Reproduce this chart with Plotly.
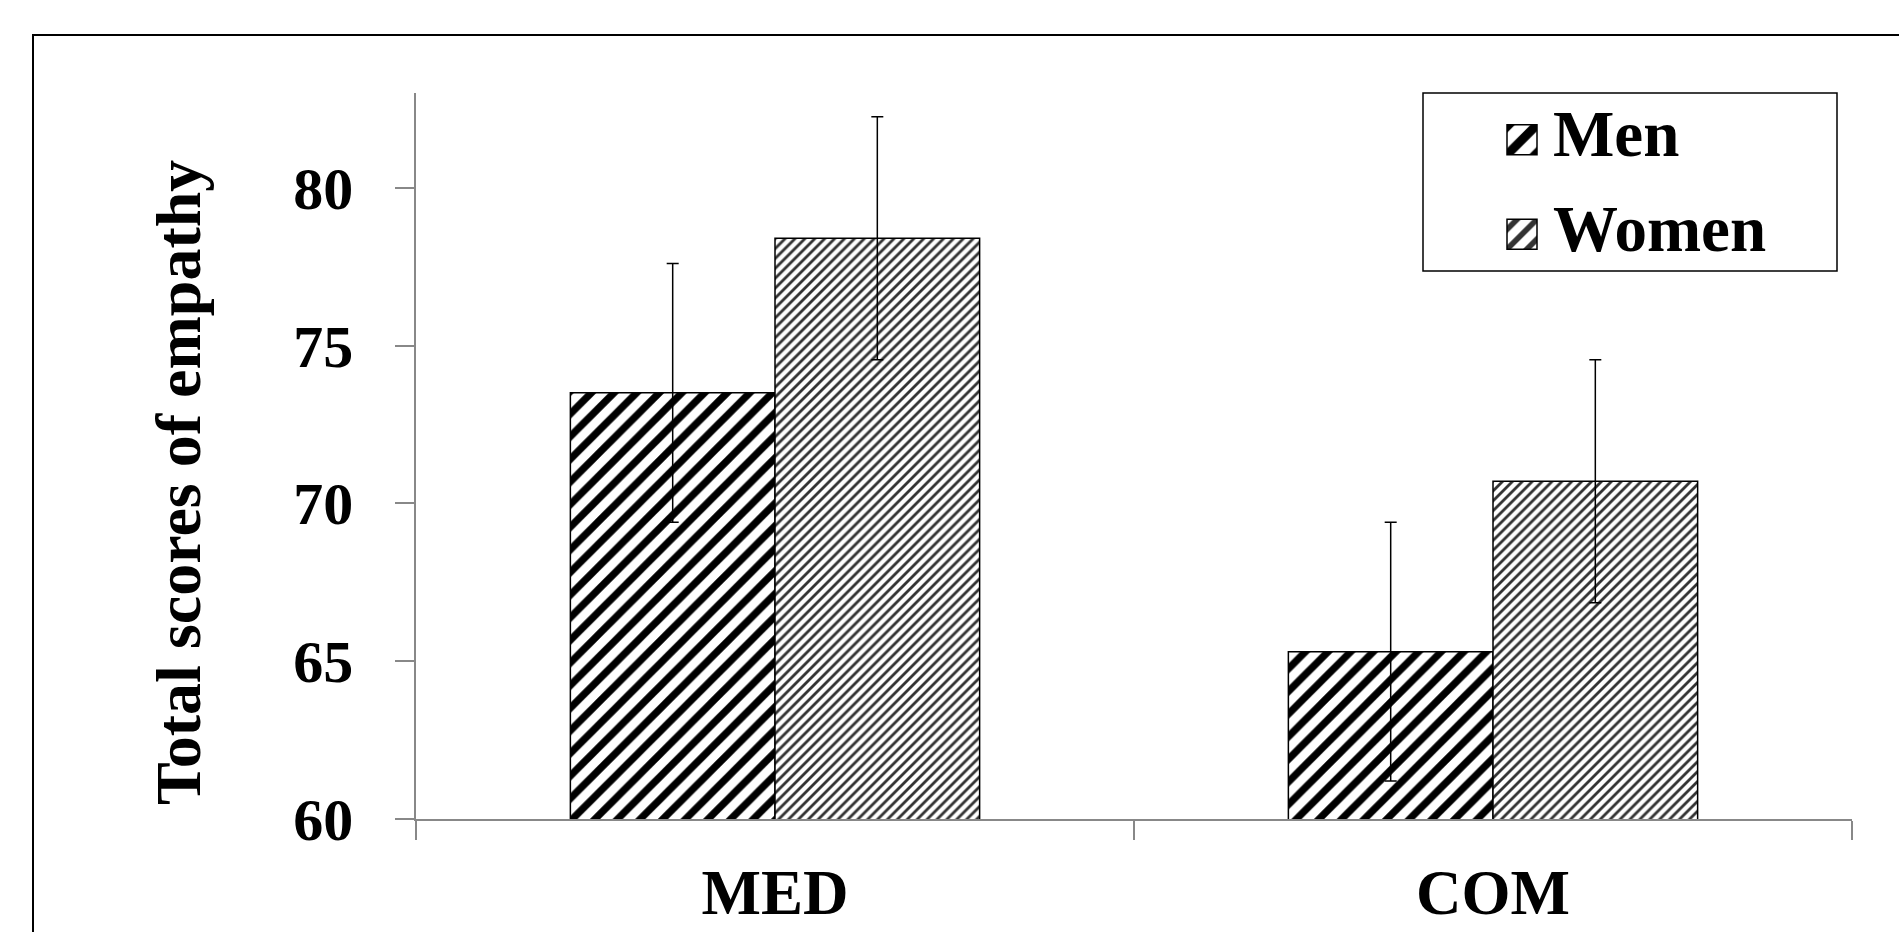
import plotly.graph_objects as go

categories = ["MED", "COM"]
men_values = [73.5, 65.3]
men_err = [4.1, 4.1]
women_values = [78.4, 70.7]
women_err = [3.85, 3.85]
y_ticks = [60, 65, 70, 75, 80]

W, H = 1899, 932
L, R, T, B = 416, 47, 93, 113
pw, ph = W - L - R, H - T - B

def px_x(p):
    return (p - L) / pw

def px_y(p):
    return (H - B - p) / ph

FONT = "Liberation Serif"

fig = go.Figure()
fig.add_trace(go.Bar(
    x=categories, y=men_values, name="Men", legendgroup="men",
    marker=dict(color="white", line=dict(color="black", width=1.5),
                pattern=dict(shape="/", size=16, solidity=0.45, fgcolor="black",
                             bgcolor="white", fgopacity=1, fillmode="replace")),
    error_y=dict(type="data", array=men_err, color="black", thickness=1.5, width=6),
))
fig.add_trace(go.Bar(
    x=categories, y=women_values, name="Women", legendgroup="women",
    marker=dict(color="white", line=dict(color="black", width=1.5),
                pattern=dict(shape="/", size=7, solidity=0.4, fgcolor="#333333",
                             bgcolor="white", fgopacity=1, fillmode="replace")),
    error_y=dict(type="data", array=women_err, color="black", thickness=1.5, width=6),
))

fig.update_layout(
    width=W, height=H,
    margin=dict(l=L, r=R, t=T, b=B, pad=0, autoexpand=False),
    paper_bgcolor="white", plot_bgcolor="white",
    barmode="group", bargap=0.43, bargroupgap=0,
    font=dict(family=FONT, color="black", size=60, weight="bold"),
    showlegend=True,
    legend=dict(x=px_x(1491), y=px_y(82), xanchor="left", yanchor="top",
                bgcolor="rgba(0,0,0,0)", borderwidth=0, itemwidth=52,
                font=dict(family=FONT, size=65, color="black", weight="bold"),
                tracegroupgap=7),
    xaxis=dict(showline=True, linecolor="#888888", linewidth=1.5, automargin=False,
               ticks="outside", ticklen=19, tickcolor="#888888", tickwidth=1.5,
               tickson="boundaries", showgrid=False, zeroline=False,
               tickfont=dict(family=FONT, size=63, color="black", weight="bold"),
               ticklabelstandoff=18),
    yaxis=dict(range=[60, 83], tickvals=y_ticks, showline=True, linecolor="#888888", linewidth=1.5,
               automargin=False,
               ticks="outside", ticklen=19, tickcolor="#888888", tickwidth=1.5,
               showgrid=False, zeroline=False,
               tickfont=dict(family=FONT, size=60, color="black", weight="bold"),
               ticklabelstandoff=30),
    shapes=[
        dict(type="rect", xref="paper", yref="paper",
             x0=px_x(33), x1=px_x(1910), y0=px_y(35), y1=px_y(960),
             line=dict(color="black", width=2), fillcolor="rgba(0,0,0,0)", layer="below"),
        dict(type="rect", xref="paper", yref="paper",
             x0=px_x(1423), x1=px_x(1837), y0=px_y(93), y1=px_y(271),
             line=dict(color="black", width=1.5), fillcolor="rgba(0,0,0,0)"),
    ],
    annotations=[
        dict(text="Total scores of empathy", textangle=-90, xref="paper", yref="paper",
             x=px_x(178), y=px_y(483), xanchor="center", yanchor="middle", showarrow=False,
             font=dict(family=FONT, size=64, color="black", weight="bold")),
    ],
)

post = """
document.body.style.margin='0';
document.body.style.overflow='hidden';
function bigSwatches(){
  document.querySelectorAll('.legend .legendpoints path').forEach(function(p){
    if (p.getAttribute('data-big')) return;
    var cur = p.getAttribute('transform') || '';
    p.setAttribute('transform', cur + ' translate(0,9) scale(2.5)');
    p.setAttribute('vector-effect', 'non-scaling-stroke');
    p.setAttribute('data-big', '1');
  });
}
bigSwatches();
var gd = document.getElementById('{plot_id}');
if (gd && gd.on) { gd.on('plotly_afterplot', function(){ setTimeout(bigSwatches, 0); }); }
setTimeout(bigSwatches, 100);
"""

fig.write_html("out.html", config={"displayModeBar": False}, post_script=post)
